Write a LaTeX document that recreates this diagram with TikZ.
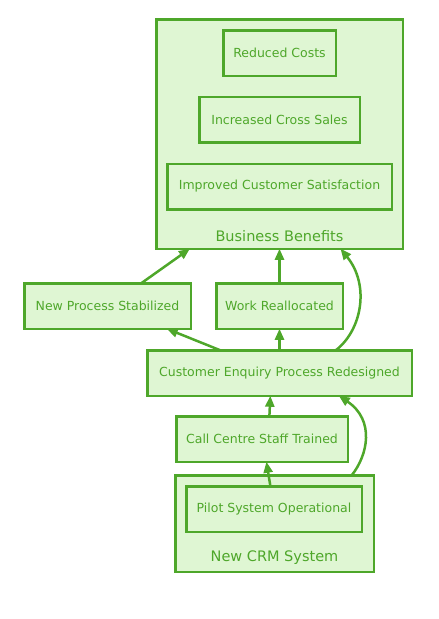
\documentclass[tikz,border=0pt]{standalone}
\usepackage{fontspec}
\setmainfont{DejaVu Sans}
\usetikzlibrary{arrows.meta}
\definecolor{crmline}{HTML}{4EA72A}
\definecolor{crmfill}{HTML}{DFF6D3}

\begin{document}
\begin{tikzpicture}[x=1pt, y=-1pt]

        \tikzstyle{box} = [rectangle, minimum height=45.5pt, inner sep=0pt, outer sep=0pt, text centered, draw=crmline, line width=2.5pt, fill=crmfill, text=crmline, font=\fontsize{12.5}{15}\selectfont]
        \tikzstyle{cluster} = [rectangle, inner sep=0pt, outer sep=0pt, draw=crmline, line width=2.5pt, fill=crmfill]
        \tikzstyle{clustertitle} = [text=crmline, font=\fontsize{14.5}{17}\selectfont]
        \tikzstyle{arrow} = [draw=crmline, line width=2.5pt, -{Triangle[length=11pt, width=9pt]}]
        \useasboundingbox (0,0) rectangle (439,619);

        % Clusters
        \node (benefits) [cluster, minimum width=246.5pt, minimum height=229.5pt] at (279.5,134) {};
        \node (benefitstitle) [clustertitle] at (279.5,236) {Business Benefits};
        \node (crmsys) [cluster, minimum width=198.5pt, minimum height=96.5pt] at (274.5,523.5) {};
        \node (crmtitle) [clustertitle] at (274.5,558) {New CRM System};

        % Nodes
        \node (costs) [box, minimum width=112.5pt] at (279.5,53) {Reduced Costs};
        \node (cross) [box, minimum width=160.5pt] at (279.5,119.5) {Increased Cross Sales};
        \node (satisfaction) [box, minimum width=224.5pt] at (279.5,186.5) {Improved Customer Satisfaction};
        \node (stabilized) [box, minimum width=166.5pt] at (107.5,306) {New Process Stabilized};
        \node (reallocated) [box, minimum width=126.5pt] at (279.5,306) {Work Reallocated};
        \node (redesigned) [box, minimum width=264.5pt] at (279.5,373) {Customer Enquiry Process Redesigned};
        \node (trained) [box, minimum width=171.5pt] at (262,439) {Call Centre Staff Trained};
        \node (pilot) [box, minimum width=175.5pt] at (274,509) {Pilot System Operational};

        % Arrows
        \draw [arrow] (stabilized.34) -- (benefits.232);
        \draw [arrow] (reallocated) -- (benefits);
        \draw [arrow] (redesigned.22) .. controls (362,330) and (370,285) .. (benefits.298);
        \draw [arrow] (redesigned.159) -- (stabilized.339);
        \draw [arrow] (redesigned) -- (reallocated);
        \draw [arrow] (trained.72) -- (redesigned.248);
        \draw [arrow] (crmsys.32.6) .. controls (368,455) and (375,420) .. (redesigned.339.4);
        \draw [arrow] (pilot.99.5) -- (trained.281.8);

    \end{tikzpicture}
\end{document}
